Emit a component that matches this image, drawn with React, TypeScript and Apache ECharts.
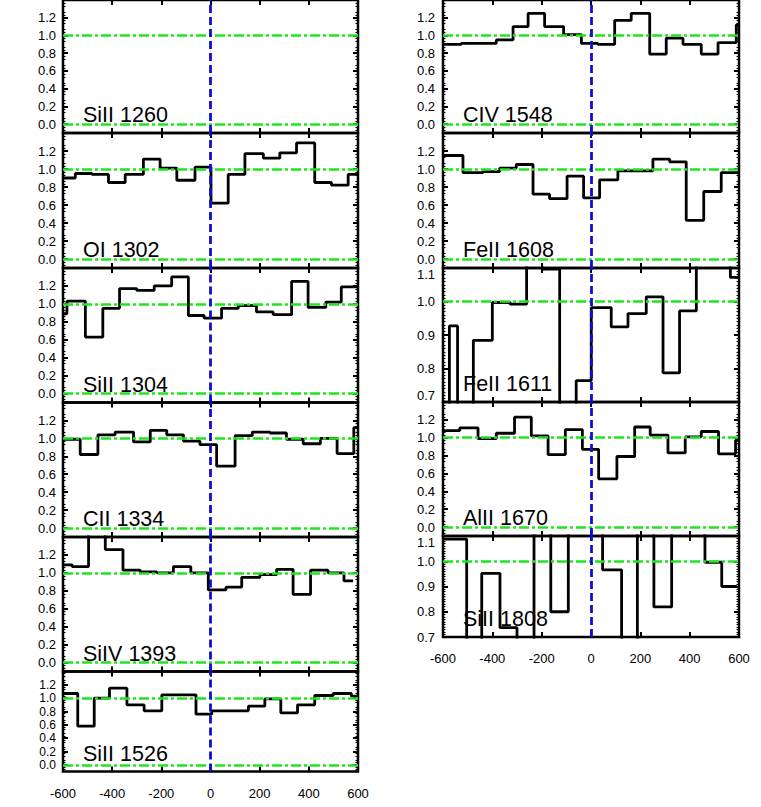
import React, { useEffect, useRef } from "react";
import * as echarts from "echarts";

// ---------- data (velocity bin edges in km/s, normalised flux per bin) ----------
const xTickLabels = [-600, -400, -200, 0, 200, 400, 600];
const yTicksWide = [0, 0.2, 0.4, 0.6, 0.8, 1.0, 1.2];
const yTicksNarrow = [0.7, 0.8, 0.9, 1.0, 1.1];

const lineNames = [
  "SiII 1260", "OI 1302", "SiII 1304", "CII 1334", "SiIV 1393", "SiII 1526",
  "CIV 1548", "FeII 1608", "FeII 1611", "AlII 1670", "SiII 1808",
];

const siII1260Edges: number[] = [];
const siII1260Flux: number[] = [];

const oI1302Edges = [-600, -550, -482, -415, -347, -273, -205, -137, -63, 2, 72, 140, 215, 282, 350, 424, 492, 560, 600];
const oI1302Flux = [0.90, 0.95, 0.94, 0.85, 0.94, 1.11, 1.01, 0.875, 1.02, 0.62, 0.94, 1.17, 1.12, 1.18, 1.29, 0.85, 0.82, 0.94];

const siII1304Edges = [-600, -584, -509, -438, -370, -300, -229, -158, -90, -26, 45, 113, 187, 255, 330, 397, 469, 532, 600];
const siII1304Flux = [0.89, 1.03, 0.63, 0.95, 1.17, 1.15, 1.20, 1.30, 0.87, 0.84, 0.95, 0.98, 0.91, 0.88, 1.25, 0.96, 1.02, 1.19];

const cII1334Edges = [-600, -530, -458, -388, -313, -245, -178, -110, -43, 25, 100, 170, 242, 309, 377, 447, 515, 583, 600];
const cII1334Flux = [0.99, 0.82, 1.04, 1.07, 0.96, 1.09, 1.04, 0.97, 0.93, 0.69, 1.03, 1.07, 1.06, 0.99, 0.94, 1.00, 0.83, 1.12];

const siIV1393Edges = [-600, -563, -496, -428, -356, -286, -218, -151, -80, -9, 63, 127, 201, 269, 336, 407, 478, 543, 580];
const siIV1393Flux = [1.09, 1.07, 1.55, 1.26, 1.03, 1.01, 1.00, 1.07, 1.00, 0.81, 0.84, 0.95, 0.98, 1.04, 0.76, 1.03, 1.00, 0.91];

const siII1526Edges = [-600, -540, -473, -411, -340, -270, -198, -130, -59, 5, 79, 154, 221, 286, 354, 424, 499, 573, 600];
const siII1526Flux = [1.07, 0.58, 1.00, 1.15, 0.90, 0.81, 1.05, 1.05, 0.76, 0.81, 0.81, 0.88, 0.99, 0.78, 0.90, 1.04, 1.07, 1.03];

const cIV1548Edges = [-600, -526, -458, -384, -316, -255, -188, -111, -39, 28, 96, 163, 238, 305, 373, 447, 515, 589, 600];
const cIV1548Flux = [0.90, 0.91, 0.91, 0.95, 1.10, 1.25, 1.10, 1.01, 0.91, 0.90, 1.17, 1.25, 0.79, 0.97, 0.90, 0.79, 0.92, 1.12];

const feII1608Edges = [-600, -519, -438, -370, -303, -235, -168, -97, -30, 35, 109, 184, 251, 319, 386, 457, 528, 600];
const feII1608Flux = [1.15, 0.96, 0.97, 1.01, 1.05, 0.72, 0.67, 0.92, 0.68, 0.88, 0.98, 0.98, 1.11, 1.08, 0.43, 0.75, 0.96];

const feII1611Edges = [-600, -574, -541, -477, -400, -328, -261, -195, -127, -60, 1, 82, 150, 224, 292, 359, 427, 495, 565, 600];
const feII1611Flux = [0.60, 0.927, 0.60, 0.884, 0.997, 0.992, 1.20, 1.097, 0.60, 0.764, 0.982, 0.924, 0.964, 1.014, 0.787, 0.972, 1.20, 1.20, 1.072];

const alII1670Edges = [-600, -532, -458, -384, -310, -242, -174, -104, -35, 31, 105, 177, 240, 312, 382, 447, 517, 586, 600];
const alII1670Flux = [1.08, 1.11, 0.99, 1.05, 1.23, 1.02, 0.81, 1.09, 0.87, 0.54, 0.79, 1.12, 1.03, 0.83, 1.01, 1.07, 0.82, 0.97];

const siII1808Edges = [-600, -504, -443, -369, -300, -231, -163, -92, 47, 124, 188, 255, 327, 462, 530, 591];
const siII1808Flux = [1.088, 0.50, 0.952, 0.737, 0.50, 1.30, 0.80, 1.30, 0.966, 0.50, 1.30, 0.819, 1.30, 0.996, 0.90];

const panelEdges = [siII1260Edges, oI1302Edges, siII1304Edges, cII1334Edges, siIV1393Edges, siII1526Edges,
  cIV1548Edges, feII1608Edges, feII1611Edges, alII1670Edges, siII1808Edges];
const panelFlux = [siII1260Flux, oI1302Flux, siII1304Flux, cII1334Flux, siIV1393Flux, siII1526Flux,
  cIV1548Flux, feII1608Flux, feII1611Flux, alII1670Flux, siII1808Flux];

// ---------- layout (pixels) ----------
const FONT = '"Liberation Sans", Arial, Helvetica, sans-serif';
const COLS = [
  { left: 63, width: 295 },
  { left: 443, width: 296 },
];
const layout = [
  { col: 0, top: -2, h: 135, narrow: false, xl: false, fs: 13 },
  { col: 0, top: 133, h: 135, narrow: false, xl: false, fs: 13 },
  { col: 0, top: 268, h: 134.5, narrow: false, xl: false, fs: 13 },
  { col: 0, top: 402.5, h: 134.5, narrow: false, xl: false, fs: 13 },
  { col: 0, top: 537, h: 134.5, narrow: false, xl: false, fs: 13 },
  { col: 0, top: 671.5, h: 100, narrow: false, xl: true, fs: 12 },
  { col: 1, top: -2, h: 135, narrow: false, xl: false, fs: 13 },
  { col: 1, top: 133, h: 135, narrow: false, xl: false, fs: 13 },
  { col: 1, top: 268, h: 134, narrow: true, xl: false, fs: 13 },
  { col: 1, top: 402, h: 134, narrow: false, xl: false, fs: 13 },
  { col: 1, top: 536, h: 101, narrow: true, xl: true, fs: 13 },
];

const GREEN = "#1ee61e";
const BLUE = "#1010cc";

function buildOption() {
  const grid: any[] = [];
  const xAxis: any[] = [];
  const yAxis: any[] = [];
  const series: any[] = [];
  const graphic: any[] = [];

  layout.forEach((p, i) => {
    const c = COLS[p.col];
    grid.push({
      left: c.left, top: p.top, width: c.width, height: p.h,
      show: true, borderColor: "#000", borderWidth: 2.5, backgroundColor: "transparent",
    });
    const xBase = {
      type: "value", gridIndex: i, min: -600, max: 600, interval: 200,
      axisLine: { show: false, onZero: false }, splitLine: { show: false },
      axisTick: { show: true, inside: true, length: 5, lineStyle: { color: "#000", width: 2 } },
    };
    xAxis.push({
      ...xBase, position: "bottom",
      axisLabel: {
        show: p.xl, margin: 15, fontSize: 13, color: "#000", fontFamily: FONT,
        showMinLabel: true, showMaxLabel: true,
        customValues: xTickLabels,
        formatter: (v: number) => String(Math.round(v)),
      },
    });
    xAxis.push({ ...xBase, position: "top", axisLabel: { show: false } });

    const ticks = p.narrow ? yTicksNarrow : yTicksWide;
    const yBase = {
      type: "value", gridIndex: i,
      min: p.narrow ? 0.7 : -0.1, max: p.narrow ? 1.1 : 1.4, interval: 0.1,
      axisLine: { show: false, onZero: false }, splitLine: { show: false },
      axisTick: { show: true, inside: true, length: 5, customValues: ticks, lineStyle: { color: "#000", width: 2 } },
      minorTick: { show: true, splitNumber: p.narrow ? 10 : 3, length: 2.5, lineStyle: { color: "#000", width: 1 } },
      minorSplitLine: { show: false },
    };
    const labelExtra: any = p.narrow
      ? { verticalAlignMaxLabel: "top", verticalAlignMinLabel: p.xl ? "middle" : "bottom" }
      : {};
    yAxis.push({
      ...yBase, position: "left",
      axisLabel: {
        show: true, margin: p.col === 0 ? 7 : 8, fontSize: p.fs, color: "#000", fontFamily: FONT,
        customValues: ticks,
        formatter: (v: number) => v.toFixed(1),
        ...labelExtra,
      },
    });
    yAxis.push({ ...yBase, position: "right", axisLabel: { show: false } });

    const edges = panelEdges[i];
    const flux = panelFlux[i];
    const pts = edges.map((e, k) => [e, flux[Math.min(k, flux.length - 1)]]);

    const refLines: any[] = [];
    if (!p.narrow) {
      refLines.push({ yAxis: 0, lineStyle: { color: GREEN, type: [10, 3, 3, 3], width: 2.5 } });
    }
    refLines.push({ yAxis: 1, lineStyle: { color: GREEN, type: [10, 3, 3, 3], width: 2.5 } });
    refLines.push({ xAxis: 0, lineStyle: { color: BLUE, type: [8, 4], width: 2.8 } });

    series.push({
      type: "line",
      xAxisIndex: 2 * i,
      yAxisIndex: 2 * i,
      data: pts,
      step: "end",
      symbol: "none",
      clip: true,
      silent: true,
      lineStyle: { color: "#000", width: 2.8 },
      markLine: {
        silent: true,
        symbol: "none",
        label: { show: false },
        animation: false,
        data: refLines,
      },
    });

    graphic.push({
      type: "text",
      x: c.left + 20,
      y: p.top + p.h - 18,
      silent: true,
      style: {
        text: lineNames[i],
        fontSize: 21.5,
        fontFamily: FONT,
        fill: "#000",
        verticalAlign: "middle",
        textVerticalAlign: "middle",
      },
    });
  });

  return {
    animation: false,
    backgroundColor: "#fff",
    textStyle: { fontFamily: FONT },
    grid, xAxis, yAxis, series, graphic,
  };
}

export default function App() {
  const ref = useRef<HTMLDivElement>(null);
  useEffect(() => {
    document.body.style.margin = "0";
    if (!ref.current) return;
    const chart = echarts.init(ref.current, undefined, { renderer: "svg" });
    chart.setOption(buildOption() as any);
    return () => chart.dispose();
  }, []);
  return <div ref={ref} style={{ width: 761, height: 807 }} />;
}
